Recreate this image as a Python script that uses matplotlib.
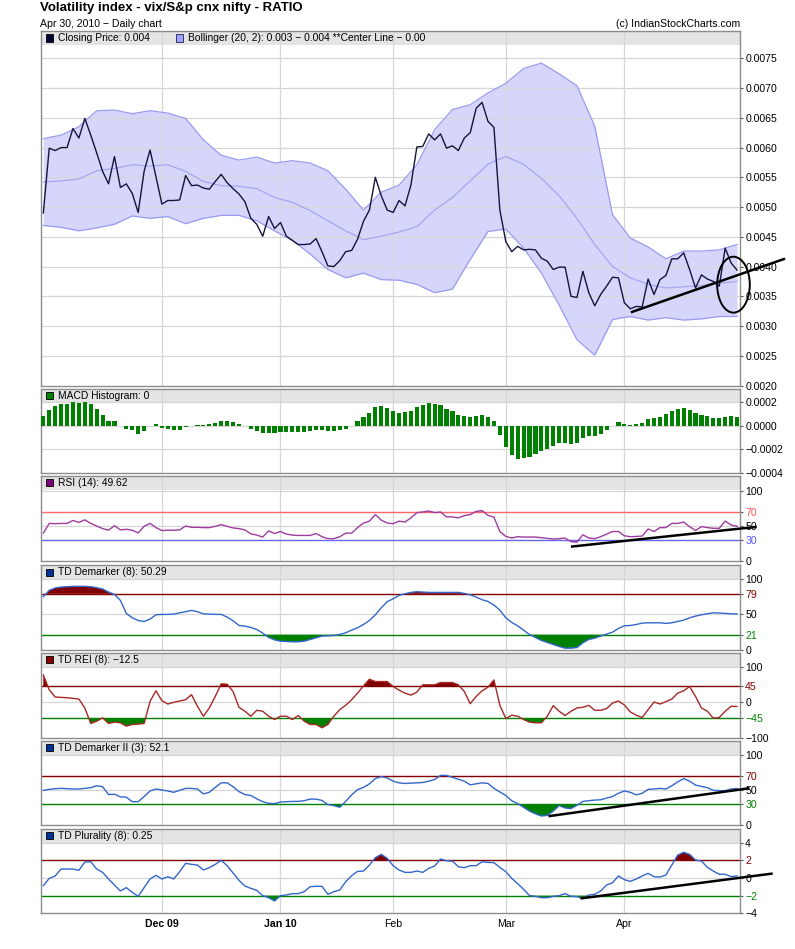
import numpy as np
import matplotlib
matplotlib.use('Agg')
import matplotlib.pyplot as plt
from matplotlib.patches import Rectangle, Ellipse

plt.rcParams['font.family'] = ['Liberation Sans', 'DejaVu Sans']

# trading day index 0..117 (Nov 2009 - Apr 30 2010)
month_pos = [20, 40, 59, 78, 98]
month_lbl = ['Dec 09', 'Jan 10', 'Feb', 'Mar', 'Apr']
month_wt = ['bold', 'bold', 'normal', 'normal', 'normal']

close = [0.00490, 0.00599, 0.00595, 0.00600, 0.00600, 0.00632, 0.00616, 0.00649, 0.00621, 0.00591,
         0.00560, 0.00539, 0.00585, 0.00533, 0.00539, 0.00523, 0.00491, 0.00560, 0.00596, 0.00551,
         0.00505, 0.00511, 0.00511, 0.00512, 0.00553, 0.00536, 0.00537, 0.00532, 0.00530, 0.00543,
         0.00555, 0.00541, 0.00531, 0.00522, 0.00509, 0.00481, 0.00471, 0.00451, 0.00484, 0.00464,
         0.00474, 0.00451, 0.00444, 0.00437, 0.00437, 0.00438, 0.00447, 0.00425, 0.00401, 0.00400,
         0.00410, 0.00425, 0.00427, 0.00446, 0.00476, 0.00495, 0.00550, 0.00519, 0.00495, 0.00491,
         0.00511, 0.00502, 0.00537, 0.00601, 0.00602, 0.00623, 0.00613, 0.00623, 0.00599, 0.00603,
         0.00595, 0.00616, 0.00625, 0.00666, 0.00676, 0.00644, 0.00634, 0.00495, 0.00442, 0.00425,
         0.00434, 0.00428, 0.00429, 0.00428, 0.00414, 0.00409, 0.00395, 0.00399, 0.00399, 0.00350,
         0.00348, 0.00392, 0.00356, 0.00334, 0.00353, 0.00367, 0.00382, 0.00381, 0.00339, 0.00329,
         0.00333, 0.00332, 0.00379, 0.00353, 0.00378, 0.00385, 0.00413, 0.00413, 0.00423, 0.00395,
         0.00364, 0.00386, 0.00379, 0.00375, 0.00367, 0.00431, 0.00406, 0.00394]

band_day = list(range(0, 118, 3))
band_up = [0.00615, 0.00621, 0.00635, 0.00662, 0.00663, 0.00657, 0.00662, 0.00658, 0.00649, 0.00613,
           0.00587, 0.00579, 0.00584, 0.00574, 0.00578, 0.00574, 0.00561, 0.00530, 0.00495, 0.00525,
           0.00537, 0.00571, 0.00630, 0.00664, 0.00672, 0.00692, 0.00708, 0.00733, 0.00742, 0.00724,
           0.00704, 0.00636, 0.00487, 0.00448, 0.00433, 0.00413, 0.00426, 0.00426, 0.00428, 0.00437]
band_mid = [0.00542, 0.00544, 0.00547, 0.00561, 0.00565, 0.00571, 0.00569, 0.00571, 0.00560, 0.00543,
            0.00536, 0.00535, 0.00531, 0.00516, 0.00508, 0.00494, 0.00477, 0.00460, 0.00445, 0.00451,
            0.00458, 0.00467, 0.00495, 0.00516, 0.00544, 0.00572, 0.00585, 0.00572, 0.00548, 0.00519,
            0.00481, 0.00437, 0.00400, 0.00381, 0.00370, 0.00364, 0.00366, 0.00368, 0.00372, 0.00375]
band_low = [0.00469, 0.00466, 0.00460, 0.00465, 0.00471, 0.00485, 0.00481, 0.00484, 0.00472, 0.00481,
            0.00486, 0.00486, 0.00477, 0.00460, 0.00444, 0.00421, 0.00395, 0.00381, 0.00389, 0.00378,
            0.00377, 0.00370, 0.00356, 0.00362, 0.00412, 0.00459, 0.00463, 0.00431, 0.00389, 0.00335,
            0.00277, 0.00251, 0.00311, 0.00316, 0.00310, 0.00314, 0.00310, 0.00312, 0.00316, 0.00316]

macd_hist = [0.000083, 0.000134, 0.000169, 0.000186, 0.000186, 0.000203, 0.000197, 0.000203, 0.000186, 0.000143,
             0.000091, 0.000040, 0.000040, 0.000002, -0.000026, -0.000037, -0.000066, -0.000043, -0.000002, 0.000014,
             -0.000017, -0.000026, -0.000037, -0.000034, -0.000009, 0.000003, 0.000011, 0.000011, 0.000020, 0.000026,
             0.000037, 0.000037, 0.000029, 0.000020, -0.000003, -0.000023, -0.000043, -0.000060, -0.000063, -0.000057,
             -0.000051, -0.000049, -0.000049, -0.000049, -0.000049, -0.000043, -0.000031, -0.000031, -0.000043, -0.000043,
             -0.000037, -0.000023, -0.000003, 0.000040, 0.000071, 0.000109, 0.000157, 0.000169, 0.000151, 0.000129,
             0.000109, 0.000114, 0.000129, 0.000157, 0.000177, 0.000191, 0.000186, 0.000177, 0.000143, 0.000123,
             0.000091, 0.000080, 0.000071, 0.000083, 0.000089, 0.000077, 0.000043, -0.000077, -0.000180, -0.000251,
             -0.000277, -0.000271, -0.000260, -0.000237, -0.000214, -0.000194, -0.000174, -0.000149, -0.000149, -0.000157,
             -0.000146, -0.000100, -0.000086, -0.000086, -0.000066, -0.000034, -0.000003, 0.000029, 0.000014, 0.000011,
             0.000014, 0.000026, 0.000060, 0.000069, 0.000077, 0.000097, 0.000123, 0.000140, 0.000151, 0.000134,
             0.000111, 0.000094, 0.000083, 0.000069, 0.000066, 0.000077, 0.000083, 0.000077]

rsi = [39.8, 53.7, 53.3, 53.7, 53.7, 57.9, 55.1, 58.8, 53.7, 50.0,
       46.3, 44.0, 50.5, 44.4, 45.3, 44.0, 40.2, 49.5, 53.7, 47.7,
       43.5, 44.0, 44.0, 44.4, 50.0, 48.1, 48.1, 47.7, 47.7, 49.5,
       51.9, 49.5, 47.2, 46.3, 44.4, 38.8, 37.0, 34.2, 43.0, 39.3,
       42.1, 38.4, 37.0, 36.5, 36.5, 36.5, 39.3, 34.7, 31.9, 31.9,
       34.7, 39.8, 39.8, 47.7, 54.2, 57.0, 66.3, 58.4, 54.2, 53.3,
       57.0, 55.6, 61.6, 69.1, 70.0, 71.4, 69.1, 70.0, 63.0, 63.0,
       61.6, 64.9, 66.3, 70.9, 71.9, 65.3, 62.6, 42.1, 35.1, 32.8,
       34.7, 34.2, 34.2, 34.2, 33.3, 32.3, 31.4, 31.9, 32.8, 27.7,
       27.2, 37.4, 32.8, 31.9, 34.7, 38.4, 42.1, 42.1, 36.0, 34.7,
       35.1, 35.6, 45.8, 42.1, 47.7, 47.7, 53.7, 53.7, 55.6, 49.1,
       43.5, 49.1, 47.7, 46.7, 46.7, 57.0, 51.4, 49.6]

td_dem = [74.9, 83.9, 87.2, 88.6, 89.1, 89.6, 89.6, 89.6, 89.1, 87.7,
          85.8, 81.5, 78.2, 69.7, 51.2, 45.0, 41.2, 39.8, 43.1, 49.3,
          49.8, 49.8, 50.2, 52.1, 53.6, 55.5, 53.6, 50.7, 50.2, 49.8,
          49.8, 46.0, 40.8, 34.1, 33.2, 31.3, 28.4, 23.2, 17.1, 13.7,
          11.8, 11.4, 10.9, 10.9, 11.8, 14.2, 16.6, 19.0, 19.4, 19.9,
          21.3, 23.7, 27.5, 30.8, 35.5, 41.2, 49.3, 59.2, 67.8, 72.0,
          76.8, 79.1, 81.0, 82.0, 81.5, 81.0, 81.0, 81.0, 81.0, 81.0,
          81.0, 79.6, 77.7, 74.4, 70.6, 68.2, 63.0, 55.9, 45.0, 38.4,
          33.6, 27.5, 21.3, 17.1, 12.8, 10.0, 7.1, 4.3, 1.9, 1.9,
          2.8, 9.5, 14.2, 16.1, 19.0, 21.8, 24.6, 29.9, 33.6, 34.1,
          35.5, 37.4, 37.9, 37.9, 37.9, 37.0, 37.9, 39.8, 41.7, 45.0,
          47.4, 49.3, 50.7, 52.1, 51.7, 51.2, 50.7, 50.3]

td_rei = [76.3, 34.4, 14.0, 13.0, 12.1, 10.2, 8.4, -16.7, -60.5, -54.0,
          -44.7, -60.5, -56.7, -58.6, -67.9, -63.3, -62.3, -60.5, 1.9, 31.6,
          3.7, -5.6, -0.9, 2.8, 6.5, 20.5, -12.1, -40.0, -16.7, 15.8,
          51.2, 50.2, 29.8, -14.9, -26.0, -40.0, -23.3, -26.0, -40.0, -49.3,
          -40.0, -40.0, -49.3, -38.1, -54.0, -63.3, -63.3, -72.6, -63.3, -40.0,
          -21.4, -9.3, 6.5, 25.1, 45.6, 64.2, 57.7, 57.7, 57.7, 43.7,
          33.5, 25.1, 19.5, 27.9, 48.4, 48.4, 48.4, 54.9, 54.9, 54.9,
          48.4, 29.8, -4.7, 15.8, 31.6, 41.9, 62.3, -9.3, -46.5, -37.2,
          -40.0, -49.3, -56.7, -58.6, -58.6, -40.0, -10.2, -26.0, -38.1, -26.0,
          -16.7, -14.9, -9.3, -23.3, -23.3, -18.6, -2.8, 2.8, -8.4, -27.9,
          -37.2, -43.7, -21.4, 0.0, -5.6, 0.9, 8.4, 25.1, 31.6, 43.7,
          15.8, -16.7, -26.0, -45.6, -43.7, -26.0, -12.1, -12.5]

td_dem2 = [49.5, 50.9, 51.9, 52.3, 51.9, 51.4, 51.4, 52.3, 53.3, 56.0,
           54.7, 43.5, 44.0, 40.2, 39.8, 33.3, 33.3, 40.7, 48.6, 51.4,
           50.0, 48.6, 46.7, 49.5, 52.3, 52.3, 51.4, 44.4, 46.7, 53.7,
           60.2, 60.2, 54.7, 47.7, 43.5, 42.1, 37.4, 33.3, 30.9, 30.5,
           32.8, 33.3, 33.7, 33.7, 34.7, 37.0, 37.0, 35.1, 29.1, 27.7,
           25.3, 33.7, 43.0, 50.5, 53.7, 58.8, 66.3, 69.1, 67.2, 62.6,
           60.2, 59.3, 59.8, 60.2, 60.7, 62.6, 64.9, 70.9, 70.9, 68.1,
           65.3, 62.6, 57.4, 58.8, 60.2, 59.3, 52.3, 47.2, 42.1, 34.7,
           30.5, 25.3, 19.8, 16.0, 12.8, 13.7, 19.8, 27.7, 24.4, 23.5,
           28.1, 33.7, 34.7, 35.6, 36.0, 38.4, 40.7, 45.3, 48.6, 46.7,
           43.0, 45.3, 50.9, 51.4, 52.3, 51.4, 56.0, 61.6, 66.3, 62.6,
           57.0, 55.1, 53.3, 49.5, 49.1, 49.1, 51.4, 52.1]

td_plur = [-0.87, -0.04, 0.23, 1.02, 1.02, 1.02, 0.87, 1.81, 1.85, 1.02,
           0.64, -0.11, -0.79, -1.47, -1.09, -1.62, -2.08, -1.09, -0.11, 0.30,
           -0.11, 0.15, -0.11, 0.72, 1.66, 1.55, 1.47, 0.91, 1.17, 1.55,
           2.00, 1.40, 0.57, -0.26, -0.91, -1.17, -1.40, -2.00, -2.23, -2.60,
           -2.00, -1.92, -1.77, -1.77, -1.55, -0.98, -0.94, -0.94, -1.85, -1.55,
           -1.36, -0.42, 0.26, 0.75, 0.79, 1.47, 2.30, 2.68, 2.23, 1.40,
           0.91, 0.64, 0.64, 0.79, 0.64, 1.09, 1.36, 2.15, 1.96, 1.92,
           1.28, 1.17, 1.40, 1.40, 1.85, 1.77, 1.74, 1.21, 0.72, -0.04,
           -0.64, -1.28, -2.00, -2.08, -2.23, -2.23, -2.08, -2.00, -1.77, -2.08,
           -2.11, -2.30, -1.92, -1.85, -1.47, -0.79, -0.53, 0.23, -0.19, -0.38,
           -0.11, 0.23, 0.53, 0.15, 0.11, 0.34, 1.47, 2.60, 2.91, 2.68,
           2.04, 1.92, 1.21, 0.79, 0.42, 0.42, 0.15, 0.25]

# hand-drawn annotations (day index, value)
main_trend_x, main_trend_y = [99.3, 124.9], [0.003237, 0.004126]
main_circle = (116.4, 0.003695, 5.5, 0.00094)
rsi_trend_x, rsi_trend_y = [89.2, 120.1], [20.7, 48.6]
dem2_trend_x, dem2_trend_y = [85.4, 118.9], [12.8, 52.3]
plur_trend_x, plur_trend_y = [90.8, 122.8], [-2.30, 0.49]

days = np.arange(len(close))

W, H = 795, 949
LEFT, RIGHT = 41, 740
DARKRED, GREEN = '#800000', '#008000'
fig = plt.figure(figsize=(W / 100, H / 100), dpi=100)


def make_panel(top, bottom, ylim, ticks, labels, grid_y, colors=None):
    ax = fig.add_axes([LEFT / W, 1 - bottom / H, (RIGHT - LEFT) / W, (bottom - top) / H])
    ax.set_xlim(-0.39, 117.5)
    ax.set_ylim(*ylim)
    hh = 14 / (bottom - top)
    ax.add_patch(Rectangle((0, 1 - hh), 1, hh, transform=ax.transAxes,
                           fc='#e4e4e4', ec='none', zorder=0.5))
    for m in month_pos:
        ax.axvline(m, color='#d6d6d6', lw=0.9, zorder=1)
    for g in grid_y:
        ax.axhline(g, color='#d6d6d6', lw=0.9, zorder=1)
    ax.yaxis.tick_right()
    ax.set_yticks(ticks)
    ax.set_yticklabels(labels, fontsize=7.6)
    ax.tick_params(axis='y', length=2.5, pad=1.2, color='#555555', width=0.8)
    ax.tick_params(axis='x', length=0)
    ax.set_xticks([])
    for s in ax.spines.values():
        s.set_color('#8c8c8c')
        s.set_linewidth(1)
    if colors:
        for lab, c in zip(ax.get_yticklabels(), colors):
            lab.set_color(c)
    return ax


def legend_item(top, x, text, fc, ec='#111111'):
    fig.patches.append(Rectangle((x / W, 1 - (top + 10.5) / H), 7 / W, 7 / H,
                                 transform=fig.transFigure, fc=fc, ec=ec, lw=0.7, zorder=5))
    fig.text((x + 11.7) / W, 1 - (top + 7.2) / H, text, fontsize=7.4, va='center', ha='left')


def band_fill(ax, y, hi, lo):
    y = np.array(y)
    ax.fill_between(days, y, hi, where=y > hi, interpolate=True, color=DARKRED, lw=0, zorder=2)
    ax.fill_between(days, y, lo, where=y < lo, interpolate=True, color=GREEN, lw=0, zorder=2)
    ax.axhline(hi, color=DARKRED, lw=1, zorder=2)
    ax.axhline(lo, color=GREEN, lw=1, zorder=2)


# titles
fig.text(40 / W, 1 - 7.5 / H, 'Volatility index - vix/S&p cnx nifty - RATIO',
         fontsize=9.5, fontweight='bold', va='center')
fig.text(40 / W, 1 - 24 / H, 'Apr 30, 2010 \u2212 Daily chart', fontsize=7.6, va='center')
fig.text(740 / W, 1 - 24 / H, '(c) IndianStockCharts.com', fontsize=7.6, va='center', ha='right')

# main price panel
main_ticks = [0.0020, 0.0025, 0.0030, 0.0035, 0.0040, 0.0045, 0.0050, 0.0055, 0.0060, 0.0065, 0.0070, 0.0075]
ax = make_panel(31, 385.5, (0.0020, 0.00796), main_ticks, ['%.4f' % t for t in main_ticks], main_ticks[1:])
ax.fill_between(band_day, band_low, band_up, color='#d6d6fc', lw=0, zorder=0.8)
ax.plot(band_day, band_up, color='#9a9af2', lw=0.9, zorder=3)
ax.plot(band_day, band_low, color='#9a9af2', lw=0.9, zorder=3)
ax.plot(band_day, band_mid, color='#a6a6f0', lw=0.9, zorder=3)
ax.plot(days, close, color='#14143c', lw=1.0, zorder=4)
ax.plot(main_trend_x, main_trend_y, color='black', lw=1.8, zorder=6, clip_on=False)
cx, cy, cw, ch = main_circle
ax.add_patch(Ellipse((cx, cy), cw, ch, fill=False, ec='black', lw=1.4, zorder=6, clip_on=False))
legend_item(31, 46, 'Closing Price: 0.004', '#000033')
legend_item(31, 176, 'Bollinger (20, 2): 0.003 \u2212 0.004 **Center Line \u2212 0.00', '#a0a0ff', '#333366')

# MACD histogram
ax = make_panel(388.5, 473, (-0.0004, 0.000317), [0.0002, 0.0, -0.0002, -0.0004],
                ['0.0002', '0.0000', '\u22120.0002', '\u22120.0004'], [-0.0002, 0.0, 0.0002])
ax.bar(days, macd_hist, width=0.7, color=GREEN, zorder=3)
legend_item(388.5, 46, 'MACD Histogram: 0', GREEN)

# RSI
ax = make_panel(476, 561, (0, 121.4), [100, 70, 50, 30, 0], ['100', '70', '50', '30', '0'], [50, 100],
                ['black', '#ff5555', 'black', '#5555ff', 'black'])
r = np.array(rsi)
ax.fill_between(days, r, 70, where=r > 70, interpolate=True, color='#ff9999', lw=0, zorder=2)
ax.fill_between(days, r, 30, where=r < 30, interpolate=True, color='#6666ff', lw=0, zorder=2)
ax.axhline(70, color='#ff6666', lw=1, zorder=2)
ax.axhline(30, color='#6666ee', lw=1, zorder=2)
ax.plot(days, rsi, color='#a03ca0', lw=1.0, zorder=3)
ax.plot(rsi_trend_x, rsi_trend_y, color='black', lw=1.8, zorder=6, clip_on=False)
legend_item(476, 46, 'RSI (14): 49.62', '#800080')

# TD Demarker
ax = make_panel(565, 649.5, (0, 119.9), [100, 79, 50, 21, 0], ['100', '79', '50', '21', '0'], [50, 100],
                ['black', DARKRED, 'black', GREEN, 'black'])
band_fill(ax, td_dem, 79, 21)
ax.plot(days, td_dem, color='#3366cc', lw=1.0, zorder=3)
legend_item(565, 46, 'TD Demarker (8): 50.29', '#003399')

# TD REI
ax = make_panel(652.7, 737.5, (-100, 139), [100, 45, 0, -45, -100],
                ['100', '45', '0', '\u221245', '\u2212100'], [0, 100],
                ['black', DARKRED, 'black', GREEN, 'black'])
band_fill(ax, td_rei, 45, -45)
ax.plot(days, td_rei, color='#a82828', lw=1.0, zorder=3)
legend_item(652.7, 46, 'TD REI (8): \u221212.5', '#880000')

# TD Demarker II
ax = make_panel(740.7, 825, (0, 120.4), [100, 70, 50, 30, 0], ['100', '70', '50', '30', '0'], [50, 100],
                ['black', DARKRED, 'black', GREEN, 'black'])
band_fill(ax, td_dem2, 70, 30)
ax.plot(days, td_dem2, color='#3366cc', lw=1.0, zorder=3)
ax.plot(dem2_trend_x, dem2_trend_y, color='black', lw=1.8, zorder=6, clip_on=False)
legend_item(740.7, 46, 'TD Demarker II (3): 52.1', '#003399')

# TD Plurality
ax = make_panel(828.7, 913.3, (-4, 5.59), [4, 2, 0, -2, -4],
                ['4', '2', '0', '\u22122', '\u22124'], [0, 4],
                ['black', DARKRED, 'black', GREEN, 'black'])
band_fill(ax, td_plur, 2, -2)
ax.plot(days, td_plur, color='#3366cc', lw=1.0, zorder=3)
ax.plot(plur_trend_x, plur_trend_y, color='black', lw=1.8, zorder=6, clip_on=False)
legend_item(828.7, 46, 'TD Plurality (8): 0.25', '#003399')
ax.set_xticks(month_pos)
ax.set_xticklabels(month_lbl, fontsize=7.6)
ax.tick_params(axis='x', length=0, pad=4)
for lab, wt in zip(ax.get_xticklabels(), month_wt):
    lab.set_fontweight(wt)

fig.savefig('out.png', dpi=100)
